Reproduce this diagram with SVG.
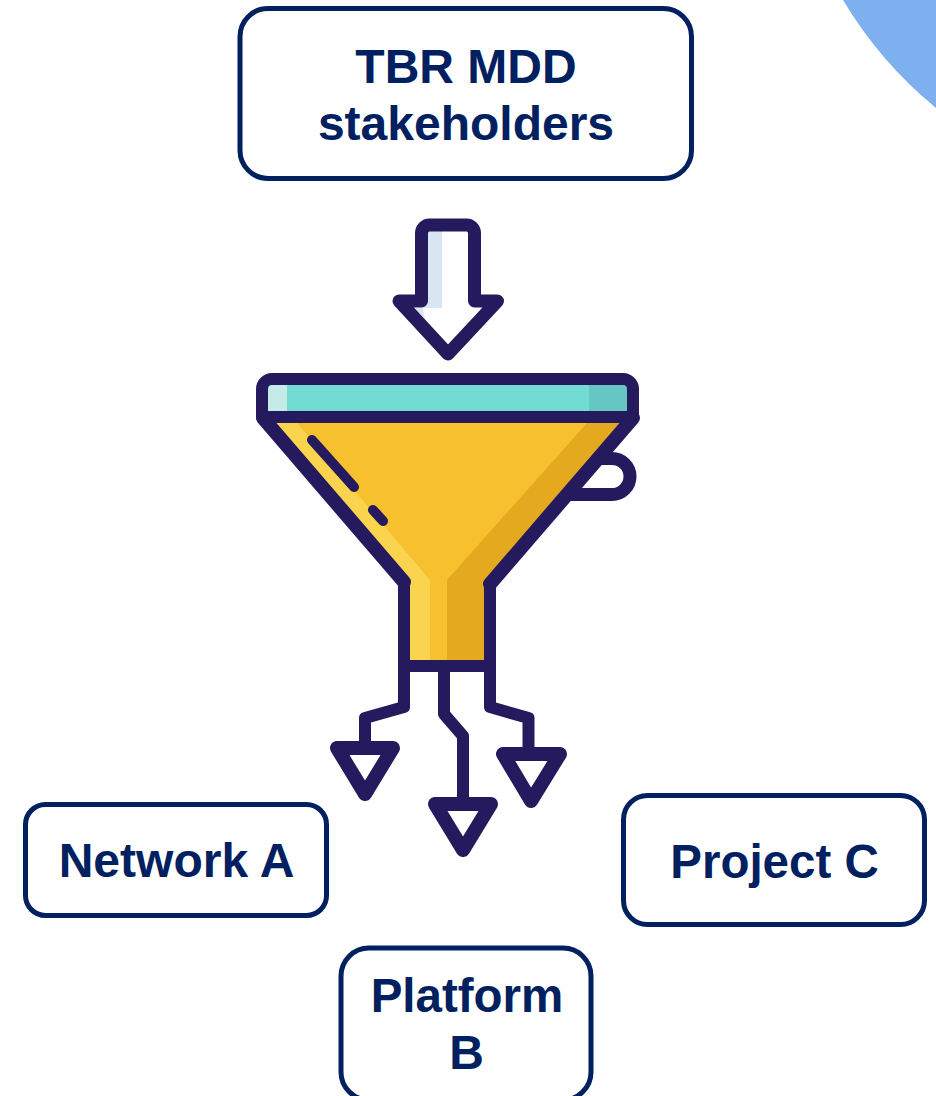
<svg xmlns="http://www.w3.org/2000/svg" width="936" height="1096" viewBox="0 0 936 1096">
<style>
.box{fill:#fff;stroke:#002060;stroke-width:5}
.lbl{font-family:"Liberation Sans",Arial,sans-serif;font-weight:700;font-size:48px;fill:#002060;text-anchor:middle}
.ink{fill:none;stroke:#251a5e;stroke-width:12;stroke-linejoin:round;stroke-linecap:round}
.head{fill:#fff;stroke:#251a5e;stroke-width:14;stroke-linejoin:round}
</style>
<rect width="936" height="1096" fill="#fff"/>
<path id="corner" d="M843 0Q880 62 936 108V0Z" fill="#7eb0f0"/>
<g id="node-source"><rect class="box" x="240" y="8.500" width="451.500" height="170" rx="28"/>
<text class="lbl" x="466" y="83">TBR MDD</text><text class="lbl" x="466" y="140">stakeholders</text></g>
<g id="funnel">
<path d="M421 231a6 6 0 0 1 6-6h42a6 6 0 0 1 6 6V301h23L448 355 398 301h23Z" fill="#fff"/>
<path d="M427 230H442V308H415L425 319 421 300 427 300Z" fill="#d8e6f4"/>
<path class="ink" style="stroke-width:13" d="M421.500 233a8 8 0 0 1 8-8h37a8 8 0 0 1 8 8V301h23L448 354 399 301h22.500Z"/>
<path d="M612 458.500A18 18 0 0 1 612 494.500H572Z" fill="#fff"/>
<path class="ink" style="stroke-width:13" d="M595 458.500H612A18 18 0 0 1 612 494.500H570"/>
<path d="M262 417L404 582V666H490V584L634 417Z" fill="#f6c02f"/>
<path d="M276 423L297 423L430 580V660H410V582Z" fill="#fbd44f"/>
<path d="M587 423H622L484 582V660H447V580Z" fill="#e5a91f"/>
<rect x="262" y="379" width="371" height="38" fill="#72dbd2"/>
<rect x="268" y="385" width="19" height="27" fill="#c5ebe9"/>
<rect x="589" y="385" width="38" height="27" fill="#65c6c4"/>
<path class="ink" d="M262 417V389a10 10 0 0 1 10-10H623a10 10 0 0 1 10 10V417Z"/>
<path class="ink" style="stroke-width:14" d="M263 418L404 582M633 418L490 584"/>
<path class="ink" d="M404 582V666H490V584"/>
<path class="ink" style="stroke-width:10" d="M312 440L354 487M373 510L383 521"/>
</g>
<g id="connectors">
<path class="ink" d="M404 666V707L365 718V748"/>
<path class="ink" d="M444 666V714L463 736V803"/>
<path class="ink" d="M490 666V707L528.500 718V754"/>
<path class="head" d="M337 748H393L365 794Z"/>
<path class="head" d="M435 804H491L463 850Z"/>
<path class="head" d="M503 754H560L531 801Z"/>
</g>
<g id="node-a"><rect class="box" x="25.500" y="804.500" width="301" height="111" rx="20"/><text class="lbl" x="176.500" y="877">Network A</text></g>
<g id="node-c"><rect class="box" x="623.500" y="795.500" width="301" height="129" rx="24"/><text class="lbl" style="font-size:47.500px" x="774.500" y="878">Project C</text></g>
<g id="node-b"><rect class="box" x="341" y="948" width="250" height="152" rx="28"/><text class="lbl" style="font-size:47.500px" x="467" y="1012">Platform</text><text class="lbl" x="466.500" y="1069">B</text></g>
</svg>
